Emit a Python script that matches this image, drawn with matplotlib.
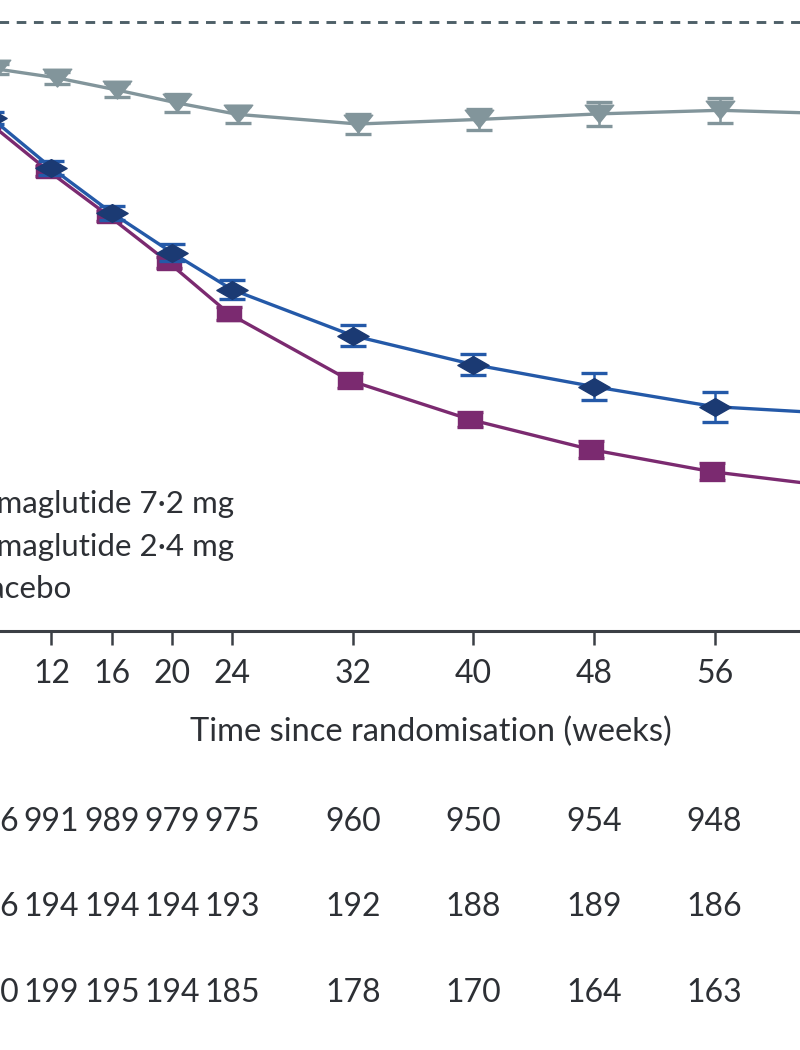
import numpy as np
import matplotlib.pyplot as plt
from matplotlib.path import Path
from matplotlib import transforms

plt.rcParams['font.family'] = ['Lato', 'DejaVu Sans']

# mean change in body weight (%) by week
weeks = [0, 4, 8, 12, 16, 20, 24, 32, 40, 48, 56, 64]
sema72 = [0, -2.0, -3.94, -5.87, -7.64, -9.49, -11.5, -14.13, -15.67, -16.85, -17.72, -18.3]
sema72_se = [0, 0.15, 0.2, 0.2, 0.2, 0.22, 0.25, 0.28, 0.3, 0.32, 0.33, 0.35]
sema24 = [0, -2.0, -3.78, -5.75, -7.52, -9.09, -10.55, -12.36, -13.5, -14.37, -15.16, -15.43]
sema24_se = [0, 0.15, 0.22, 0.26, 0.28, 0.33, 0.37, 0.4, 0.43, 0.53, 0.59, 0.62]
placebo = [0, -1.0, -1.85, -2.2, -2.68, -3.19, -3.64, -4.02, -3.84, -3.62, -3.48, -3.62]
placebo_se = [0, 0.15, 0.2, 0.24, 0.28, 0.35, 0.33, 0.39, 0.41, 0.47, 0.49, 0.5]

tick_weeks = [0, 4, 8, 12, 16, 20, 24, 32, 40, 48, 56, 64, 72]
legend_labels = ['Semaglutide 7·2 mg', 'Semaglutide 2·4 mg', 'Placebo']

# number at risk
risk_weeks = [8, 12, 16, 20, 24, 32, 40, 48, 56]
risk_72 = [996, 991, 989, 979, 975, 960, 950, 954, 948]
risk_24 = [196, 194, 194, 194, 193, 192, 188, 189, 186]
risk_pbo = [200, 199, 195, 194, 185, 178, 170, 164, 163]

C_PBO = '#82959b'
C_BLUE = '#2459a8'
C_NAVY = '#1b3a73'
C_PURP = '#7b2a70'
C_TEXT = '#2d3035'
FS = 23

tri = Path([(-1, 0.65), (1, 0.65), (0, -0.6), (-1, 0.65)],
           [Path.MOVETO, Path.LINETO, Path.LINETO, Path.CLOSEPOLY])
dia = Path([(-1, 0), (0, 0.57), (1, 0), (0, -0.57), (-1, 0)],
           [Path.MOVETO, Path.LINETO, Path.LINETO, Path.LINETO, Path.CLOSEPOLY])
sq = Path([(-1, -0.54), (1, -0.54), (1, 0.54), (-1, 0.54), (-1, -0.54)],
          [Path.MOVETO, Path.LINETO, Path.LINETO, Path.LINETO, Path.CLOSEPOLY])

W, H = 800, 1050
fig = plt.figure(figsize=(8, 10.5), dpi=100)

# axes placed so the visible window is a crop of the full chart
x0_px, px_per_wk = -129.4, 15.07
y_top, y_bot = 2, -24
spine_px, zero_px = 631, 22
px_per_pct = (spine_px - zero_px) / 24
ax_h = (y_top - y_bot) * px_per_pct
ax = fig.add_axes([x0_px / W, (H - spine_px) / H, 72 * px_per_wk / W, ax_h / H])
ax.set_xlim(0, 72)
ax.set_ylim(y_bot, y_top)

ax.axhline(0, color='#4e6068', lw=2.1, dashes=(3.3, 2.6), zorder=1)

wk = np.array(weeks, dtype=float)
ax.errorbar(wk + 0.35, placebo, yerr=placebo_se, color=C_PBO, lw=2.4,
            marker=tri, ms=20.5, mfc=C_PBO, mec=C_PBO, ecolor=C_PBO,
            elinewidth=1.8, capsize=9.7, capthick=2.4, zorder=2)
ax.errorbar(wk - 0.2, sema72, yerr=sema72_se, color=C_PURP, lw=2.4,
            marker=sq, ms=17.5, mfc=C_PURP, mec=C_PURP, ecolor=C_PURP,
            elinewidth=1.8, capsize=9.7, capthick=2.4, zorder=3)
ax.errorbar(wk, sema24, yerr=sema24_se, color=C_BLUE, lw=2.4,
            marker=dia, ms=22.5, mfc=C_NAVY, mec=C_NAVY, ecolor=C_BLUE,
            elinewidth=1.8, capsize=9.7, capthick=2.4, zorder=4)

for s in ['top', 'right', 'left']:
    ax.spines[s].set_visible(False)
ax.spines['bottom'].set_linewidth(2.2)
ax.spines['bottom'].set_color('#3b3f45')
ax.set_xticks(tick_weeks)
ax.set_yticks([])
ax.tick_params(axis='x', length=10, width=1.8, color='#3b3f45',
               labelsize=FS, labelcolor=C_TEXT, pad=10)
ax.set_xlabel('Time since randomisation (weeks)', fontsize=FS + 0.5, color=C_TEXT)
ax.xaxis.set_label_coords((431 - x0_px) / (72 * px_per_wk), -0.13)

# legend text (markers fall outside the crop)
for lab, base in zip(legend_labels, [513, 556, 598]):
    fig.text(-37 / W, (H - base) / H, lab, fontsize=22.5, color=C_TEXT,
             ha='left', va='baseline')

# number at risk rows
trans = transforms.blended_transform_factory(ax.transData, fig.transFigure)
for row, ypx in zip([risk_72, risk_24, risk_pbo], [822, 907, 993]):
    for w, n in zip(risk_weeks, row):
        ax.text(w, (H - ypx) / H, str(n), transform=trans, fontsize=FS,
                color=C_TEXT, ha='center', va='center', clip_on=False)

fig.savefig('out.png', dpi=100)
